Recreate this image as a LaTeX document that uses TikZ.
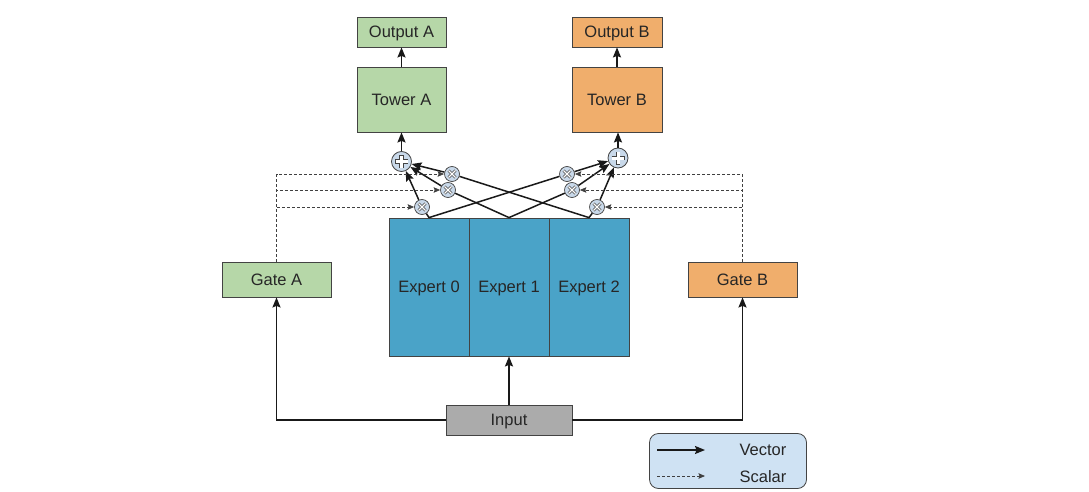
\documentclass[tikz,border=0pt]{standalone}
\usepackage{fontspec}
\setmainfont{Liberation Sans}
\usetikzlibrary{arrows.meta}
\definecolor{gfill}{HTML}{B6D7A8}
\definecolor{ofill}{HTML}{F0AE6C}
\definecolor{efill}{HTML}{4AA3C8}
\definecolor{ifill}{HTML}{ABABAB}
\definecolor{lfill}{HTML}{CFE2F3}
\definecolor{mfill}{HTML}{C9D9EA}
\definecolor{bord}{HTML}{434343}
\begin{document}
\begin{tikzpicture}[x=1pt,y=-1pt,
  every node/.style={font=\fontsize{16.5}{19}\selectfont, text=black!85},
  box/.style={draw=bord, line width=0.8pt, inner sep=0pt, anchor=center, text height=11.5pt, text depth=0pt},
  vec/.style={line width=1.5pt, black!90, -{Stealth[length=10pt,width=8pt,inset=1.5pt]}},
  vecline/.style={line width=1.5pt, black!90},
  scalar/.style={line width=0.8pt, black!75, dash pattern=on 3pt off 2pt, -{Stealth[length=6.5pt,width=5.5pt,inset=1pt]}},
  mult/.style={circle, draw=bord, line width=0.7pt, fill=mfill, minimum size=15pt, inner sep=0pt,
    path picture={
      \draw[bord, line width=2.8pt] ([shift={(-3.5pt,-3.5pt)}]path picture bounding box.center) -- ++(7pt,7pt);
      \draw[bord, line width=2.8pt] ([shift={(-3.5pt,3.5pt)}]path picture bounding box.center) -- ++(7pt,-7pt);
      \draw[white, line width=1.4pt] ([shift={(-3.5pt,-3.5pt)}]path picture bounding box.center) -- ++(7pt,7pt);
      \draw[white, line width=1.4pt] ([shift={(-3.5pt,3.5pt)}]path picture bounding box.center) -- ++(7pt,-7pt);}},
  plusn/.style={circle, draw=bord, line width=0.8pt, fill=mfill, minimum size=20pt, inner sep=0pt,
    path picture={
      \draw[bord, line width=4.6pt] ([xshift=-6.5pt]path picture bounding box.center) -- ++(13pt,0);
      \draw[bord, line width=4.6pt] ([yshift=-6.5pt]path picture bounding box.center) -- ++(0,13pt);
      \draw[white, line width=3pt] ([xshift=-6pt]path picture bounding box.center) -- ++(12pt,0);
      \draw[white, line width=3pt] ([yshift=-6pt]path picture bounding box.center) -- ++(0,12pt);}}
]
\useasboundingbox (0,0) rectangle (1089,492);
% boxes
\node[box, fill=gfill, minimum width=89pt, minimum height=30pt] (oA) at (401.5,32) {Output A};
\node[box, fill=gfill, minimum width=89pt, minimum height=65pt] (tA) at (401.5,99.5) {Tower A};
\node[box, fill=ofill, minimum width=90pt, minimum height=30pt] (oB) at (617,32) {Output B};
\node[box, fill=ofill, minimum width=90pt, minimum height=65pt] (tB) at (617,99.5) {Tower B};
\node[box, fill=efill, minimum width=80pt, minimum height=138pt] (e0) at (429,287) {Expert 0};
\node[box, fill=efill, minimum width=80pt, minimum height=138pt] (e1) at (509,287) {Expert 1};
\node[box, fill=efill, minimum width=80pt, minimum height=138pt] (e2) at (589,287) {Expert 2};
\node[box, fill=gfill, minimum width=109pt, minimum height=35pt] (gA) at (276.5,279.5) {Gate A};
\node[box, fill=ofill, minimum width=109pt, minimum height=35pt] (gB) at (742.5,279.5) {Gate B};
\node[box, fill=ifill, minimum width=126pt, minimum height=30pt] (in) at (509,420) {Input};
% plus and mult nodes
\node[plusn] (pA) at (401.5,161.5) {};
\node[plusn] (pB) at (618,158) {};
\node[mult] (mA1) at (452,174) {};
\node[mult] (mA2) at (448,190) {};
\node[mult] (mA3) at (422,207) {};
\node[mult] (mB1) at (567,174) {};
\node[mult] (mB2) at (572,190) {};
\node[mult] (mB3) at (597,207) {};
% expert to multipliers
\draw[vecline] (e0.north) -- (mA3);
\draw[vecline] (e1.north) -- (mA2);
\draw[vecline] (e2.north) -- (mA1);
\draw[vecline] (e0.north) -- (mB1);
\draw[vecline] (e1.north) -- (mB2);
\draw[vecline] (e2.north) -- (mB3);
% multipliers to plus
\draw[vec] (mA1) -- (pA);
\draw[vec] (mA2) -- (pA);
\draw[vec] (mA3) -- (pA);
\draw[vec] (mB1) -- (pB);
\draw[vec] (mB2) -- (pB);
\draw[vec] (mB3) -- (pB);
% plus to tower to output
\draw[vec] (pA) -- (tA);
\draw[vec] (tA) -- (oA);
\draw[vec] (pB) -- (tB.south -| pB);
\draw[vec] (tB) -- (oB);
% gates scalars
\draw[scalar] (gA.north) |- (mA1);
\draw[scalar] (gA.north) |- (mA2);
\draw[scalar] (gA.north) |- (mA3);
\draw[scalar] (gB.north) |- (mB1);
\draw[scalar] (gB.north) |- (mB2);
\draw[scalar] (gB.north) |- (mB3);
% input
\draw[vec] (in.north) -- (e1.south);
\draw[vec] (in.west) -| (gA.south);
\draw[vec] (in.east) -| (gB.south);
% legend
\node[draw=bord, line width=0.8pt, fill=lfill, rounded corners=9pt, minimum width=157pt, minimum height=55pt] (leg) at (728,461) {};
\coordinate (l1a) at (657,450);
\coordinate (l1b) at (705,450);
\coordinate (l2a) at (657,476);
\coordinate (l2b) at (705,476);
\draw[vec] (l1a) -- (l1b);
\draw[scalar] (l2a) -- (l2b);
\node[text height=11.5pt, text depth=0pt] (lv) at (763,450) {Vector};
\node[text height=11.5pt, text depth=0pt] (ls) at (763,477) {Scalar};
\end{tikzpicture}
\end{document}
